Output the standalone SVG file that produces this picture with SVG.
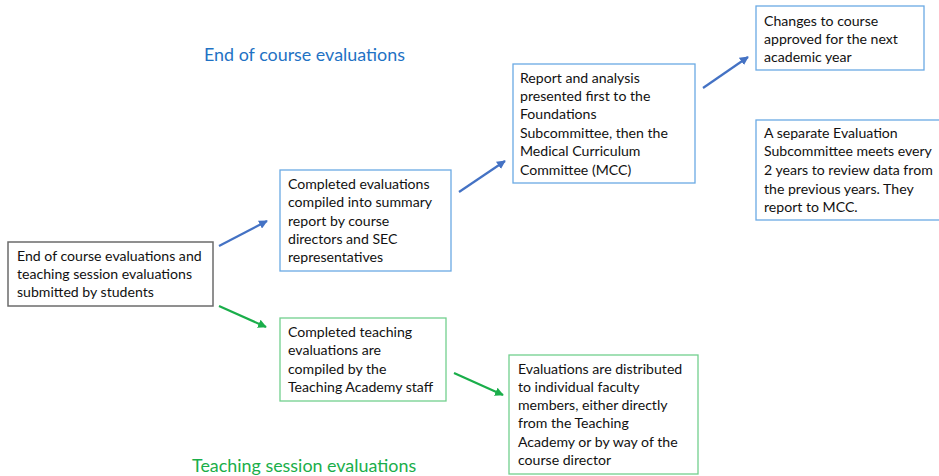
<svg xmlns="http://www.w3.org/2000/svg" width="939" height="476" viewBox="0 0 939 476">
<style>
text{font-family:"Lato","Liberation Sans",sans-serif;}
.t{font-size:14.1px;fill:#111;}
.title{font-size:17.9px;}
.bl{fill:#fff;stroke:#6aaae4;stroke-width:1.3;}
.gr{fill:#fff;stroke:#72d08e;stroke-width:1.3;}
.gy{fill:#fff;stroke:#6b6b6b;stroke-width:1.5;}
.ab{stroke:#4472c4;stroke-width:2.2;fill:none;}
.ag{stroke:#1aae4a;stroke-width:2.2;fill:none;}
</style>
<defs>
<marker id="mb" viewBox="0 0 10 10" refX="9" refY="5" markerWidth="4" markerHeight="4" orient="auto" markerUnits="strokeWidth"><path d="M0,0 L10,5 L0,10 z" fill="#4472c4"/></marker>
<marker id="mg" viewBox="0 0 10 10" refX="9" refY="5" markerWidth="4" markerHeight="4" orient="auto" markerUnits="strokeWidth"><path d="M0,0 L10,5 L0,10 z" fill="#1aae4a"/></marker>
</defs>
<rect width="939" height="476" fill="#fff"/>
<text class="title" x="204" y="61" fill="#1f72c4">End of course evaluations</text>
<text class="title" x="192" y="472" fill="#1aae4a">Teaching session evaluations</text>
<g id="connectors">
<line class="ab" x1="219" y1="246" x2="267" y2="221" marker-end="url(#mb)"/>
<line class="ab" x1="459" y1="192" x2="505" y2="161" marker-end="url(#mb)"/>
<line class="ab" x1="703" y1="88" x2="748" y2="57" marker-end="url(#mb)"/>
<line class="ag" x1="219" y1="306" x2="266" y2="327" marker-end="url(#mg)"/>
<line class="ag" x1="454" y1="373" x2="503" y2="395" marker-end="url(#mg)"/>
</g>
<g id="n1">
<rect class="gy" x="8" y="242" width="205" height="64"/>
<text class="t" x="17" y="261">End of course evaluations and</text>
<text class="t" x="17" y="279">teaching session evaluations</text>
<text class="t" x="17" y="297">submitted by students</text>
</g>
<g id="n2">
<rect class="bl" x="280" y="170" width="171" height="101"/>
<text class="t" x="288" y="189">Completed evaluations</text>
<text class="t" x="288" y="207">compiled into summary</text>
<text class="t" x="288" y="226">report by course</text>
<text class="t" x="288" y="244">directors and SEC</text>
<text class="t" x="288" y="262">representatives</text>
</g>
<g id="n3">
<rect class="bl" x="513" y="64" width="182" height="119"/>
<text class="t" x="520" y="83">Report and analysis</text>
<text class="t" x="520" y="101">presented first to the</text>
<text class="t" x="520" y="119">Foundations</text>
<text class="t" x="520" y="138">Subcommittee, then the</text>
<text class="t" x="520" y="156">Medical Curriculum</text>
<text class="t" x="520" y="175">Committee (MCC)</text>
</g>
<g id="n4">
<rect class="bl" x="756" y="6" width="168" height="64"/>
<text class="t" x="764" y="26">Changes to course</text>
<text class="t" x="764" y="44">approved for the next</text>
<text class="t" x="764" y="62">academic year</text>
</g>
<g id="n5">
<rect class="bl" x="756" y="120" width="190" height="100"/>
<text class="t" x="764" y="138">A separate Evaluation</text>
<text class="t" x="764" y="156">Subcommittee meets every</text>
<text class="t" x="764" y="175">2 years to review data from</text>
<text class="t" x="764" y="194">the previous years. They</text>
<text class="t" x="764" y="212">report to MCC.</text>
</g>
<g id="n6">
<rect class="gr" x="280" y="318" width="166" height="83"/>
<text class="t" x="288" y="337">Completed teaching</text>
<text class="t" x="288" y="355">evaluations are</text>
<text class="t" x="288" y="374">compiled by the</text>
<text class="t" x="288" y="392">Teaching Academy staff</text>
</g>
<g id="n7">
<rect class="gr" x="509" y="355" width="189" height="119"/>
<text class="t" x="518" y="374">Evaluations are distributed</text>
<text class="t" x="518" y="392">to individual faculty</text>
<text class="t" x="518" y="410">members, either directly</text>
<text class="t" x="518" y="428">from the Teaching</text>
<text class="t" x="518" y="447">Academy or by way of the</text>
<text class="t" x="518" y="465">course director</text>
</g>
</svg>
